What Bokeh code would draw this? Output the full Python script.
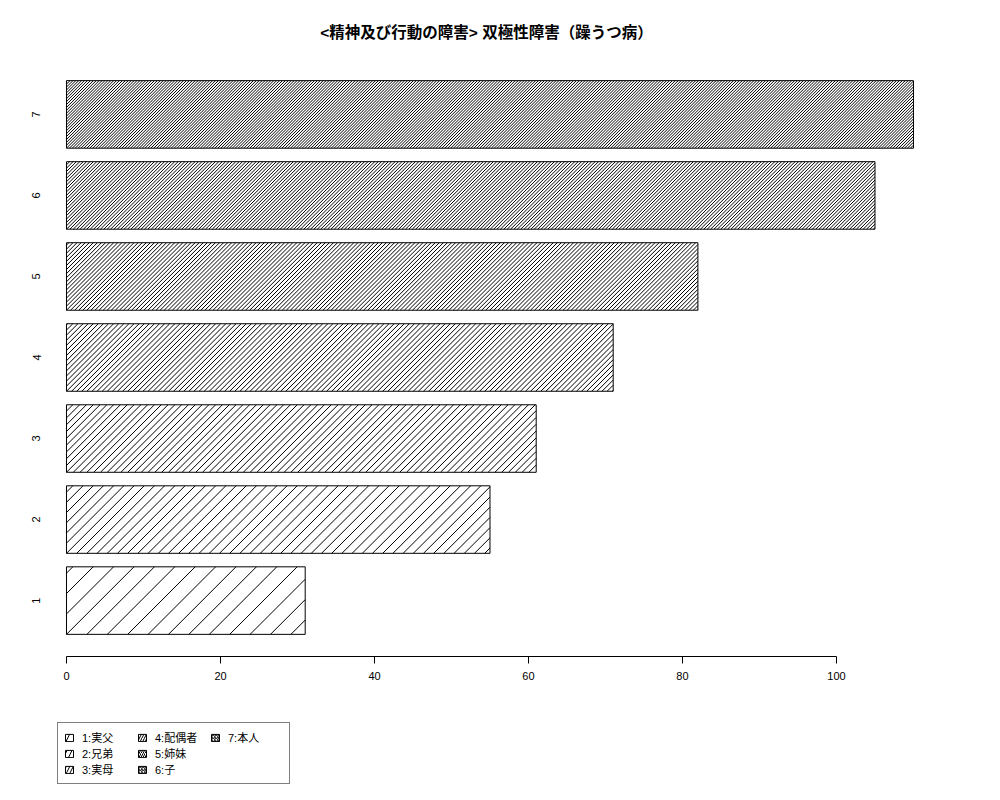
import numpy as np
from bokeh.plotting import figure
from bokeh.layouts import column
from bokeh.models import ColumnDataSource, Range1d, FixedTicker, Legend, LegendItem
from bokeh.embed import file_html
from bokeh.resources import INLINE

# ---- data ----
categories = ["1", "2", "3", "4", "5", "6", "7"]
legend_labels = ["1:実父", "2:兄弟", "3:実母", "4:配偶者", "5:姉妹", "6:子", "7:本人"]
values = [31, 55, 61, 71, 82, 105, 110]
x_ticks = [0, 20, 40, 60, 80, 100]
title_text = "<精神及び行動の障害> 双極性障害（躁うつ病）"

# ---- styles / layout ----
hatch_spacing = [20.4, 10.2, 6.8, 5.1, 4.07, 3.39, 2.91]   # px between hatch lines
FONT = "Liberation Sans, Noto Sans CJK JP"
W, H = 984, 700
BL, BR, BT, BB = 44, 56, 58, 44
X0, X1 = -2.857, 111.95
Y0, Y1 = 0.31, 7.69
BAR_H = 1 / 1.2

positions = list(range(1, len(categories) + 1))
source = ColumnDataSource(dict(y=positions, right=values, cat=categories,
                               hs=[round(s) for s in hatch_spacing], lab=legend_labels))

p = figure(width=W, height=H, output_backend="svg", toolbar_location=None,
           x_range=Range1d(X0, X1), y_range=Range1d(Y0, Y1),
           min_border_left=BL, min_border_right=BR, min_border_top=BT,
           min_border_bottom=BB)

# bars
p.hbar(y="y", right="right", left=0, height=BAR_H, source=source,
       fill_color="white", line_color=None)

# 45-degree hatch lines (computed from the bar values through the plot scales)
kx = (W - BL - BR) / (X1 - X0)
ky = (H - BT - BB) / (Y1 - Y0)
hx0, hy0, hx1, hy1 = [], [], [], []
for pos, v, sp in zip(positions, values, hatch_spacing):
    yb, yt = pos - BAR_H / 2, pos + BAR_H / 2
    d = (yt - yb) * ky / kx
    ds = sp / kx
    for x0 in np.arange(ds * np.ceil(-d / ds), v, ds):
        xa, ya_, xb, yb_ = x0, yb, x0 + d, yt
        if xa < 0:
            ya_ = yb + (0 - x0) / d * (yt - yb)
            xa = 0.0
        if xb > v:
            yb_ = yb + (v - x0) / d * (yt - yb)
            xb = v
        if xb - xa > 1e-9:
            hx0.append(xa); hy0.append(ya_); hx1.append(xb); hy1.append(yb_)
p.segment(x0=hx0, y0=hy0, x1=hx1, y1=hy1, line_color="black", line_width=1)

# outlines on top
p.hbar(y="y", right="right", left=0, height=BAR_H, source=source,
       fill_color=None, line_color="black", line_width=1)

p.title.text = title_text
p.title.align = "center"
p.title.text_font = FONT
p.title.text_font_size = "15.5px"
p.title.text_font_style = "bold"
p.title.text_color = "black"
p.title.standoff = 35

p.outline_line_color = None
p.xgrid.visible = False
p.ygrid.visible = False
p.background_fill_color = "white"

xa = p.xaxis[0]
xa.ticker = FixedTicker(ticks=x_ticks)
xa.bounds = (x_ticks[0], x_ticks[-1])
xa.minor_tick_line_color = None
xa.major_tick_in = 0
xa.major_tick_out = 7
xa.axis_line_color = "black"
xa.major_tick_line_color = "black"
xa.major_label_text_font = FONT
xa.major_label_text_font_size = "11px"
xa.major_label_text_color = "black"
xa.major_label_standoff = 8

ya = p.yaxis[0]
ya.ticker = FixedTicker(ticks=positions)
ya.major_label_overrides = {pos: c for pos, c in zip(positions, categories)}
ya.axis_line_color = None
ya.major_tick_line_color = None
ya.minor_tick_line_color = None
ya.major_tick_in = 0
ya.major_tick_out = 0
ya.major_label_orientation = "vertical"
ya.major_label_text_font = FONT
ya.major_label_text_font_size = "11px"
ya.major_label_text_color = "black"
ya.major_label_standoff = 4

# ---- legend strip below the chart ----
p2 = figure(width=W, height=84, output_backend="svg", toolbar_location=None,
            x_range=Range1d(0, 1), y_range=Range1d(0, 1),
            x_axis_type=None, y_axis_type=None, min_border=0)
p2.outline_line_color = None
p2.xgrid.visible = False
p2.ygrid.visible = False
leg_r = p2.hbar(y="y", right="right", left=0, height=BAR_H, source=source,
                fill_color="white", line_color="black", line_width=1,
                hatch_pattern="/", hatch_scale="hs", hatch_color="black",
                hatch_weight=1, visible=False)

items = [LegendItem(label=lab, renderers=[leg_r], index=i) for i, lab in enumerate(legend_labels)]
legend = Legend(items=items, location=(13, 0), orientation="vertical", nrows=3,
                glyph_width=10, glyph_height=9, label_standoff=8, label_width=55,
                label_height=12, spacing=0, padding=6, margin=0,
                border_line_color="black", border_line_width=1,
                background_fill_color="white", background_fill_alpha=1,
                inactive_fill_alpha=0,
                label_text_font=FONT, label_text_font_size="11px",
                label_text_color="black")
p2.add_layout(legend, "center")

open("out.html", "w").write(file_html(column(p, p2), INLINE))
